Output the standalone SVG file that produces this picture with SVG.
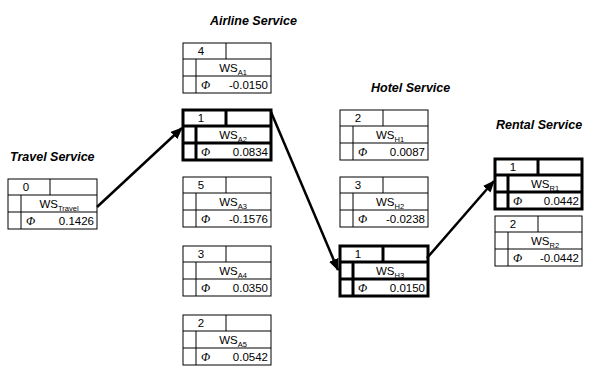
<svg xmlns="http://www.w3.org/2000/svg" width="595" height="369" viewBox="0 0 595 369">
<style>
.title{font-family:"Liberation Sans",Arial,sans-serif;font-weight:bold;font-style:italic;font-size:12.5px;fill:#000}
.t{font-family:"Liberation Sans",Arial,sans-serif;font-size:11.5px;fill:#000}
.sub{font-size:7.5px}
.phi{font-family:"Liberation Serif","Times New Roman",serif;font-style:italic;font-size:12px;fill:#000}
.box rect,.box line{fill:none;stroke:#000;stroke-width:1}
.bold rect,.bold line{stroke-width:3}
.conn line{stroke:#000;stroke-width:2.5;marker-end:url(#ah)}
</style>
<defs>
<marker id="ah" markerWidth="12" markerHeight="10" refX="11" refY="5" orient="auto" markerUnits="userSpaceOnUse">
<path d="M0,0 L12,5 L0,10 Z" fill="#000"/>
</marker>
</defs>
<rect width="595" height="369" fill="#fff"/>
<text class="title" x="210" y="25">Airline Service</text>
<text class="title" x="10" y="161">Travel Service</text>
<text class="title" x="371" y="92">Hotel Service</text>
<text class="title" x="496" y="129">Rental Service</text>

<g id="travel" class="box" transform="translate(8,179)">
<rect x="0" y="0" width="89" height="50"/>
<line x1="0" y1="16" x2="89" y2="16"/><line x1="0" y1="33" x2="89" y2="33"/>
<line x1="42" y1="0" x2="42" y2="16"/><line x1="13" y1="16" x2="13" y2="50"/>
<text class="t" x="18" y="12" text-anchor="middle">0</text>
<text class="t" x="51" y="29" text-anchor="middle">WS<tspan class="sub" dy="3">Travel</tspan></text>
<text class="phi" x="18" y="46">Φ</text>
<text class="t" x="86" y="46" text-anchor="end">0.1426</text>
</g>

<g id="a1" class="box" transform="translate(183,43)">
<rect x="0" y="0" width="88" height="50"/>
<line x1="0" y1="16" x2="88" y2="16"/><line x1="0" y1="33" x2="88" y2="33"/>
<line x1="43" y1="0" x2="43" y2="16"/><line x1="13" y1="16" x2="13" y2="50"/>
<text class="t" x="18" y="12" text-anchor="middle">4</text>
<text class="t" x="50" y="29" text-anchor="middle">WS<tspan class="sub" dy="3">A1</tspan></text>
<text class="phi" x="18" y="46">Φ</text>
<text class="t" x="85" y="46" text-anchor="end">-0.0150</text>
</g>
<g id="a2" class="box bold" transform="translate(183,110)">
<rect x="0" y="0" width="88" height="50"/>
<line x1="0" y1="16" x2="88" y2="16"/><line x1="0" y1="33" x2="88" y2="33"/>
<line x1="43" y1="0" x2="43" y2="16"/><line x1="13" y1="16" x2="13" y2="50"/>
<text class="t" x="18" y="12" text-anchor="middle">1</text>
<text class="t" x="50" y="29" text-anchor="middle">WS<tspan class="sub" dy="3">A2</tspan></text>
<text class="phi" x="18" y="46">Φ</text>
<text class="t" x="85" y="46" text-anchor="end">0.0834</text>
</g>
<g id="a3" class="box" transform="translate(183,177)">
<rect x="0" y="0" width="88" height="50"/>
<line x1="0" y1="16" x2="88" y2="16"/><line x1="0" y1="33" x2="88" y2="33"/>
<line x1="43" y1="0" x2="43" y2="16"/><line x1="13" y1="16" x2="13" y2="50"/>
<text class="t" x="18" y="12" text-anchor="middle">5</text>
<text class="t" x="50" y="29" text-anchor="middle">WS<tspan class="sub" dy="3">A3</tspan></text>
<text class="phi" x="18" y="46">Φ</text>
<text class="t" x="85" y="46" text-anchor="end">-0.1576</text>
</g>
<g id="a4" class="box" transform="translate(183,246)">
<rect x="0" y="0" width="88" height="50"/>
<line x1="0" y1="16" x2="88" y2="16"/><line x1="0" y1="33" x2="88" y2="33"/>
<line x1="43" y1="0" x2="43" y2="16"/><line x1="13" y1="16" x2="13" y2="50"/>
<text class="t" x="18" y="12" text-anchor="middle">3</text>
<text class="t" x="50" y="29" text-anchor="middle">WS<tspan class="sub" dy="3">A4</tspan></text>
<text class="phi" x="18" y="46">Φ</text>
<text class="t" x="85" y="46" text-anchor="end">0.0350</text>
</g>
<g id="a5" class="box" transform="translate(183,315)">
<rect x="0" y="0" width="88" height="50"/>
<line x1="0" y1="16" x2="88" y2="16"/><line x1="0" y1="33" x2="88" y2="33"/>
<line x1="43" y1="0" x2="43" y2="16"/><line x1="13" y1="16" x2="13" y2="50"/>
<text class="t" x="18" y="12" text-anchor="middle">2</text>
<text class="t" x="50" y="29" text-anchor="middle">WS<tspan class="sub" dy="3">A5</tspan></text>
<text class="phi" x="18" y="46">Φ</text>
<text class="t" x="85" y="46" text-anchor="end">0.0542</text>
</g>

<g id="h1" class="box" transform="translate(340,110)">
<rect x="0" y="0" width="88" height="50"/>
<line x1="0" y1="16" x2="88" y2="16"/><line x1="0" y1="33" x2="88" y2="33"/>
<line x1="43" y1="0" x2="43" y2="16"/><line x1="13" y1="16" x2="13" y2="50"/>
<text class="t" x="18" y="12" text-anchor="middle">2</text>
<text class="t" x="50" y="29" text-anchor="middle">WS<tspan class="sub" dy="3">H1</tspan></text>
<text class="phi" x="18" y="46">Φ</text>
<text class="t" x="85" y="46" text-anchor="end">0.0087</text>
</g>
<g id="h2" class="box" transform="translate(340,177)">
<rect x="0" y="0" width="88" height="50"/>
<line x1="0" y1="16" x2="88" y2="16"/><line x1="0" y1="33" x2="88" y2="33"/>
<line x1="43" y1="0" x2="43" y2="16"/><line x1="13" y1="16" x2="13" y2="50"/>
<text class="t" x="18" y="12" text-anchor="middle">3</text>
<text class="t" x="50" y="29" text-anchor="middle">WS<tspan class="sub" dy="3">H2</tspan></text>
<text class="phi" x="18" y="46">Φ</text>
<text class="t" x="85" y="46" text-anchor="end">-0.0238</text>
</g>
<g id="h3" class="box bold" transform="translate(340,246)">
<rect x="0" y="0" width="88" height="50"/>
<line x1="0" y1="16" x2="88" y2="16"/><line x1="0" y1="33" x2="88" y2="33"/>
<line x1="43" y1="0" x2="43" y2="16"/><line x1="13" y1="16" x2="13" y2="50"/>
<text class="t" x="18" y="12" text-anchor="middle">1</text>
<text class="t" x="50" y="29" text-anchor="middle">WS<tspan class="sub" dy="3">H3</tspan></text>
<text class="phi" x="18" y="46">Φ</text>
<text class="t" x="85" y="46" text-anchor="end">0.0150</text>
</g>

<g id="r1" class="box bold" transform="translate(495,159)">
<rect x="0" y="0" width="87" height="50"/>
<line x1="0" y1="16" x2="87" y2="16"/><line x1="0" y1="33" x2="87" y2="33"/>
<line x1="43" y1="0" x2="43" y2="16"/><line x1="13" y1="16" x2="13" y2="50"/>
<text class="t" x="18" y="12" text-anchor="middle">1</text>
<text class="t" x="50" y="29" text-anchor="middle">WS<tspan class="sub" dy="3">R1</tspan></text>
<text class="phi" x="18" y="46">Φ</text>
<text class="t" x="84" y="46" text-anchor="end">0.0442</text>
</g>
<g id="r2" class="box" transform="translate(495,216)">
<rect x="0" y="0" width="87" height="50"/>
<line x1="0" y1="16" x2="87" y2="16"/><line x1="0" y1="33" x2="87" y2="33"/>
<line x1="43" y1="0" x2="43" y2="16"/><line x1="13" y1="16" x2="13" y2="50"/>
<text class="t" x="18" y="12" text-anchor="middle">2</text>
<text class="t" x="50" y="29" text-anchor="middle">WS<tspan class="sub" dy="3">R2</tspan></text>
<text class="phi" x="18" y="46">Φ</text>
<text class="t" x="84" y="46" text-anchor="end">-0.0442</text>
</g>

<g id="connectors" class="conn">
<line x1="97" y1="207" x2="182" y2="128"/>
<line x1="271" y1="112" x2="338" y2="270"/>
<line x1="427" y1="258" x2="494" y2="181"/>
</g>
</svg>
